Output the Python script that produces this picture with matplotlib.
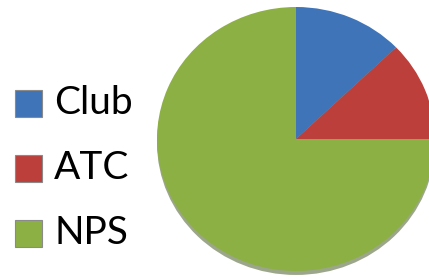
import matplotlib
matplotlib.use("Agg")
import matplotlib.pyplot as plt
from matplotlib.patches import Rectangle, Ellipse

categories = ["Club", "ATC", "NPS"]
values = [12.8, 12.2, 75.0]
colors = ["#3F74B8", "#BC3F3B", "#8DB044"]

W, H = 429, 280
fig = plt.figure(figsize=(W / 100, H / 100), dpi=100)
fig.patch.set_facecolor("white")

# full-figure axes; data units scaled so radius 1 -> rx, ry pixels
cx, cy = 296, 139
rx, ry = 139, 132
ax = fig.add_axes([0, 0, 1, 1])
ax.add_patch(Ellipse((0.0, -0.03), 2.0, 2.0, facecolor="#4a5e2a",
                     alpha=0.55, edgecolor="none", zorder=0))
wedges, _ = ax.pie(values, colors=colors, startangle=90, counterclock=False,
                   radius=1, wedgeprops=dict(linewidth=0, zorder=1))
ax.set_xlim(-cx / rx, (W - cx) / rx)
ax.set_ylim((cy - H) / ry, cy / ry)
ax.set_aspect("auto")
ax.axis("off")

# legend drawn manually
rows_y = [103, 168, 233]
for lab, col, yy in zip(categories, colors, rows_y):
    s = 27
    fig.add_artist(Rectangle((15 / W, (H - yy - s / 2) / H), s / W, s / H,
                             transform=fig.transFigure, facecolor=col,
                             edgecolor="#8a8a8a", linewidth=0.8))
    fig.text(54 / W, (H - yy) / H, lab, fontsize=28, family="Lato",
             va="center", ha="left", color="black")

fig.savefig("out.png", dpi=100)
